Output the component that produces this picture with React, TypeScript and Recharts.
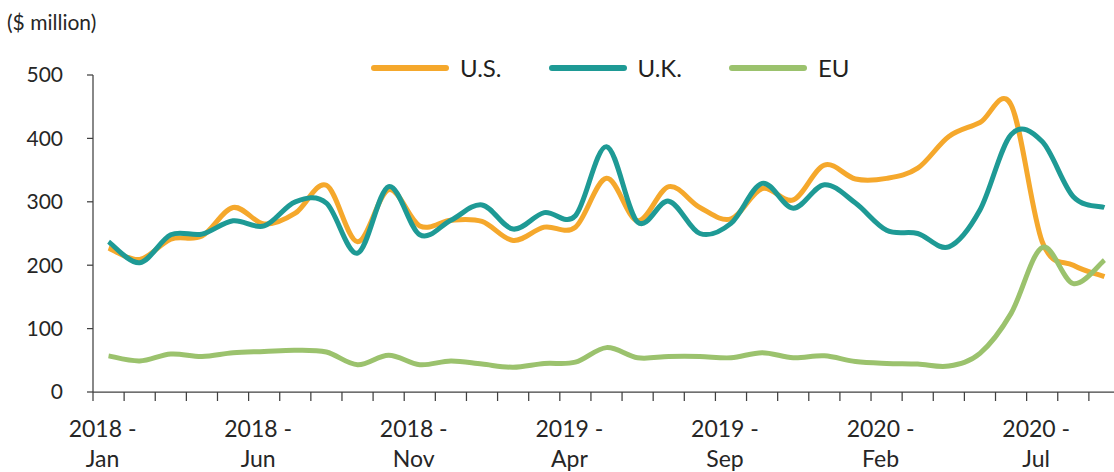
import React from 'react';
import { LineChart, Line, XAxis, YAxis, Legend } from 'recharts';

// monthly categories, 2018 Jan .. 2020 Sep
const months = [
  '2018 - Jan', '2018 - Feb', '2018 - Mar', '2018 - Apr', '2018 - May', '2018 - Jun',
  '2018 - Jul', '2018 - Aug', '2018 - Sep', '2018 - Oct', '2018 - Nov', '2018 - Dec',
  '2019 - Jan', '2019 - Feb', '2019 - Mar', '2019 - Apr', '2019 - May', '2019 - Jun',
  '2019 - Jul', '2019 - Aug', '2019 - Sep', '2019 - Oct', '2019 - Nov', '2019 - Dec',
  '2020 - Jan', '2020 - Feb', '2020 - Mar', '2020 - Apr', '2020 - May', '2020 - Jun',
  '2020 - Jul', '2020 - Aug', '2020 - Sep',
];

const us = [
  227, 209, 241, 246, 291, 265, 282, 326, 237, 319, 262, 271,
  269, 239, 260, 260, 337, 270, 324, 291, 273, 321, 303, 358,
  336, 337, 353, 403, 425, 453, 237, 200, 182,
];
const uk = [
  237, 204, 248, 249, 270, 262, 300, 298, 219, 324, 248, 271,
  295, 257, 283, 278, 387, 268, 301, 250, 266, 329, 290, 327,
  298, 255, 250, 229, 287, 406, 395, 308, 291,
];
const eu = [
  57, 49, 60, 56, 62, 64, 66, 63, 43, 58, 43, 49,
  44, 39, 45, 47, 70, 54, 56, 56, 54, 62, 54, 57,
  48, 45, 44, 41, 61, 124, 228, 171, 208,
];

const yTicks = [0, 100, 200, 300, 400, 500];

const series = [
  { key: 'us', name: 'U.S.', color: '#F5A82C' },
  { key: 'uk', name: 'U.K.', color: '#1E9A95' },
  { key: 'eu', name: 'EU', color: '#9BC26D' },
];

const data = months.map((m, i) => ({ month: m, us: us[i], uk: uk[i], eu: eu[i] }));

const CHART_W = 1120;
const CHART_H = 472;
const Y_AXIS_W = 93;
const PLOT_W = CHART_W - Y_AXIS_W;
const FONT = 'Lato, "Noto Sans", sans-serif';
const AXIS = '#404040';
const TEXT = '#262626';

// smoothed line like a spreadsheet "smoothed line" (Catmull-Rom through the points)
const smoothCurve = (context: any) => {
  let pts: number[][] = [];
  return {
    areaStart() {},
    areaEnd() {},
    lineStart() {
      pts = [];
    },
    point(x: number, y: number) {
      pts.push([+x, +y]);
    },
    lineEnd() {
      const n = pts.length;
      if (!n) return;
      context.moveTo(pts[0][0], pts[0][1]);
      for (let i = 0; i < n - 1; i++) {
        const p0 = pts[Math.max(i - 1, 0)];
        const p1 = pts[i];
        const p2 = pts[i + 1];
        const p3 = pts[Math.min(i + 2, n - 1)];
        context.bezierCurveTo(
          p1[0] + (p2[0] - p0[0]) / 6, p1[1] + (p2[1] - p0[1]) / 6,
          p2[0] - (p3[0] - p1[0]) / 6, p2[1] - (p3[1] - p1[1]) / 6,
          p2[0], p2[1]
        );
      }
    },
  };
};

const MonthTick = (props: any) => {
  const { x, y, index, payload } = props;
  const bw = PLOT_W / months.length;
  const [year, mon] = String(payload.value).split(' - ');
  return (
    <g>
      <line x1={x - bw / 2} x2={x - bw / 2} y1={y} y2={y + 9} stroke={AXIS} strokeWidth={1.25} />
      {index % 5 === 0 && (
        <text textAnchor="middle" fontFamily={FONT} fontSize={23} fill={TEXT}>
          <tspan x={x - 6} y={y + 45}>{year + ' -'}</tspan>
          <tspan x={x - 6} y={y + 75}>{mon}</tspan>
        </text>
      )}
    </g>
  );
};

const LegendContent = () => (
  <div style={{ display: 'flex', alignItems: 'center', fontFamily: FONT, fontSize: 24, color: '#231f20' }}>
    {series.map((s) => (
      <div key={s.key} style={{ display: 'flex', alignItems: 'center', marginRight: 46 }}>
        <svg width={80} height={10} style={{ marginRight: 10 }}>
          <line x1={4} x2={76} y1={5} y2={5} stroke={s.color} strokeWidth={6} strokeLinecap="round" />
        </svg>
        <span style={{ lineHeight: '28px' }}>{s.name}</span>
      </div>
    ))}
  </div>
);

export default function App() {
  return (
    <div style={{ position: 'fixed', left: 0, top: 0, width: 1114, height: 472, overflow: 'hidden', background: '#fff' }}>
      <div style={{ position: 'absolute', left: 7, top: 9, fontFamily: FONT, fontSize: 21, lineHeight: '25px', color: TEXT }}>
        ($ million)
      </div>
      <LineChart width={CHART_W} height={CHART_H} data={data} margin={{ top: 75, right: 0, left: 0, bottom: 0 }}>
        <XAxis
          dataKey="month"
          scale="band"
          interval={0}
          height={80}
          tickSize={0}
          tickMargin={0}
          tickLine={false}
          axisLine={{ stroke: AXIS, strokeWidth: 1.25 }}
          tick={<MonthTick />}
        />
        <YAxis
          width={Y_AXIS_W}
          domain={[0, 500]}
          ticks={yTicks}
          interval={0}
          tickSize={6}
          tickMargin={24}
          axisLine={{ stroke: AXIS, strokeWidth: 1.25 }}
          tickLine={{ stroke: AXIS, strokeWidth: 1.25 }}
          tick={{ fill: TEXT, fontSize: 21, fontFamily: FONT }}
        />
        <Legend
          layout="horizontal"
          verticalAlign="middle"
          align="center"
          wrapperStyle={{ top: 54, left: 370, width: 'auto' }}
          content={<LegendContent />}
        />
        {series.map((s) => (
          <Line
            key={s.key}
            dataKey={s.key}
            name={s.name}
            type={smoothCurve as any}
            stroke={s.color}
            strokeWidth={5}
            dot={false}
            activeDot={false}
            isAnimationActive={false}
          />
        ))}
      </LineChart>
    </div>
  );
}
